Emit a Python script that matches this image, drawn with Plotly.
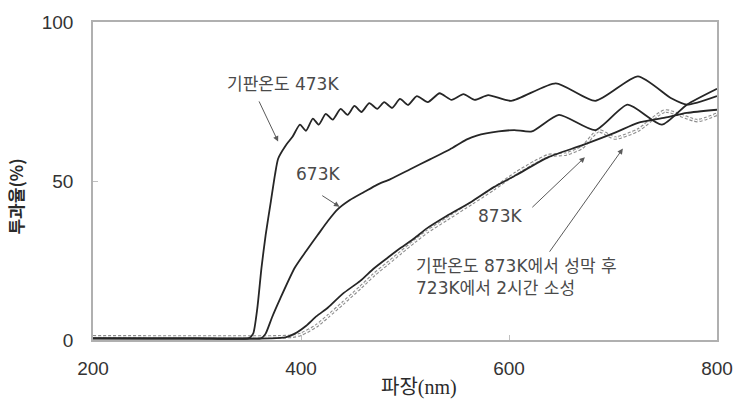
import plotly.graph_objects as go

# Wavelength (nm) / transmittance (%) for each film
wl_473 = [200, 300, 350, 354, 358, 362, 366, 371, 375, 378, 385, 392, 399, 404.8, 411.4, 417.1, 423.8,
          430.5, 438.1, 444.8, 451.4, 458.1, 465.7, 473.3, 480, 487.6, 495.2, 502.9, 511.4, 521.9,
          533.3, 544.8, 556.2, 567, 580, 602, 645, 683, 724, 756, 771, 800]
tr_473 = [0.5, 0.5, 0.6, 2, 10, 22.7, 33, 43.5, 52, 57, 61, 64, 67.7, 65.8, 69.6, 67.7, 71.1,
          69.3, 72.7, 70.8, 73.6, 71.7, 74.5, 72.7, 74.8, 73, 75.8, 73.9, 76.7, 74.8,
          77.6, 75.5, 77.3, 75.5, 77, 75.2, 80.7, 75.2, 82.9, 76, 74, 76.7]

wl_673 = [200, 340, 362, 366, 372, 380, 394, 405, 416, 426, 435, 447, 461, 473, 486, 505, 524,
          543, 559, 569, 590, 605, 622, 648, 683, 714, 747, 771, 800]
tr_673 = [0.5, 0.5, 0.6, 2, 7, 13, 22.7, 28, 33, 37.5, 41, 44, 46.6, 48.8, 50.6, 53.7, 56.8,
          59.9, 63, 64.3, 65.6, 66, 65.6, 70.8, 66, 74, 67.7, 74, 79]

wl_873 = [200, 370, 385, 394, 405, 415, 426, 440, 457, 470, 483, 496, 509, 521, 540, 564, 585,
          607, 638, 670, 702, 724, 750, 771, 800]
tr_873 = [0.5, 0.5, 0.8, 2, 4.5, 7.5, 10.2, 14.5, 18.6, 22.5, 25.8, 29, 32, 35.1, 39, 43.5, 48,
          51.9, 57.5, 61.2, 65.2, 68.3, 69.9, 71.4, 72.4]

# Film deposited at 873 K, then fired at 723 K for 2 h
wl_ann = [200, 380, 392, 400, 415, 426, 440, 457, 470, 483, 496, 509, 521, 540, 564, 585, 607,
          625, 638, 655, 670, 686, 702, 724, 750, 781, 800]
tr_ann = [1.0, 1.0, 1.2, 1.8, 4.5, 7.5, 11.5, 16.5, 20.5, 24, 27.5, 31, 34, 38, 43, 47.5, 52.5,
          56, 58, 58.5, 60.5, 65.8, 63.5, 66, 72, 69, 71]

x_ticks = [200, 400, 600, 800]
y_ticks = [0, 50, 100]

fig = go.Figure()

# dotted (open-circle look) curve for the fired film
fig.add_trace(go.Scatter(x=wl_ann, y=tr_ann, mode="lines",
                         line=dict(color="#8c8c8c", width=3.6, dash="3px,2px", shape="spline", smoothing=0.6),
                         showlegend=False, hoverinfo="skip"))
fig.add_trace(go.Scatter(x=wl_ann, y=tr_ann, mode="lines",
                         line=dict(color="#ffffff", width=1.4, dash="3px,2px", shape="spline", smoothing=0.6),
                         showlegend=False, hoverinfo="skip"))

for wl, tr in [(wl_873, tr_873), (wl_673, tr_673), (wl_473, tr_473)]:
    fig.add_trace(go.Scatter(x=wl, y=tr, mode="lines",
                             line=dict(color="#262626", width=1.8, shape="spline", smoothing=0.6),
                             showlegend=False))

label_font = dict(family="DejaVu Sans, Noto Sans CJK KR", size=17, color="#4a4a4a")

# curve labels
labels = [
    ("기판온도 473K", 383, 80.4, "center"),
    ("673K", 416, 52.2, "center"),
    ("873K", 591, 39.1, "center"),
]
for text, x, y, anchor in labels:
    fig.add_annotation(x=x, y=y, text=text, showarrow=False, font=label_font,
                       xanchor=anchor, yanchor="middle")

fig.add_annotation(x=508.6, y=19.9, text="기판온도 873K에서 성막 후<br>723K에서 2시간 소성",
                   showarrow=False, font=label_font, xanchor="left", yanchor="middle", align="left")

# pointer arrows (tail -> head)
arrows = [
    (359, 75.5, 378, 62.4),
    (419, 45.7, 437, 41.9),
    (621, 41.3, 673, 57.5),
    (638, 27.3, 709.5, 60.2),
]
for ax_, ay_, x, y in arrows:
    fig.add_annotation(x=x, y=y, ax=ax_, ay=ay_, xref="x", yref="y", axref="x", ayref="y",
                       text="", showarrow=True, arrowhead=2, arrowsize=1.1, arrowwidth=1,
                       arrowcolor="#5a5a5a")

# axis titles
fig.add_annotation(x=-0.124, y=0.45, xref="paper", yref="paper", text="<b>투과율(%)</b>", textangle=-90,
                   xanchor="center", yanchor="middle", showarrow=False,
                   font=dict(family="Noto Sans CJK KR", size=17, color="#2a2a2a"))
fig.add_annotation(x=0.522, y=-0.149, xref="paper", yref="paper", text="파장(nm)",
                   xanchor="center", yanchor="middle", showarrow=False,
                   font=dict(family="Liberation Serif, Noto Sans CJK KR", size=20, color="#2a2a2a"))

fig.update_xaxes(range=[200, 800], tickvals=x_ticks, showgrid=False, zeroline=False,
                 showline=True, mirror=True, linecolor="#b0b0b0", linewidth=1.5,
                 ticks="inside", ticklen=5, tickcolor="#c0c0c0",
                 tickfont=dict(family="Liberation Sans", size=19, color="#333333"),
                 ticklabelstandoff=10)
fig.update_yaxes(range=[0, 100], tickvals=y_ticks, showgrid=False, zeroline=False,
                 showline=True, mirror=True, linecolor="#b0b0b0", linewidth=1.5,
                 ticks="inside", ticklen=5, tickcolor="#c0c0c0",
                 tickfont=dict(family="Liberation Sans", size=19, color="#333333"),
                 ticklabelstandoff=14)

fig.update_layout(width=745, height=399, margin=dict(l=93, r=22, t=18, b=59),
                  plot_bgcolor="white", paper_bgcolor="white", showlegend=False)

fig.write_html("out.html")
